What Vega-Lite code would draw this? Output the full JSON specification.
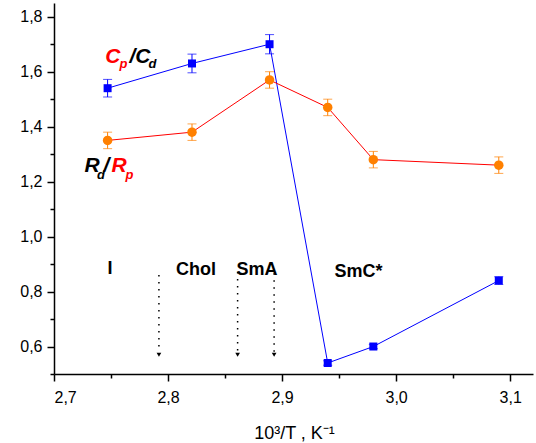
{
  "$schema": "https://vega.github.io/schema/vega-lite/v6.json",
  "width": 479,
  "height": 371,
  "autosize": {"type": "none"},
  "padding": {"left": 54, "top": 3, "right": 3, "bottom": 69},
  "config": {
    "view": {"stroke": null},
    "axis": {
      "grid": false,
      "domainColor": "#000000",
      "domainWidth": 1.5,
      "tickColor": "#000000",
      "tickWidth": 1.5,
      "tickSize": 7,
      "labelColor": "#000000",
      "labelFont": "Liberation Sans",
      "labelFontSize": 16,
      "labelOverlap": false,
      "titleFont": "Liberation Sans",
      "titleColor": "#000000",
      "titleFontWeight": "normal"
    }
  },
  "datasets": {
    "pts": [
      {"s": "C", "x": 2.747, "y": 1.54, "lo": 1.508, "hi": 1.572},
      {"s": "C", "x": 2.821, "y": 1.63, "lo": 1.596, "hi": 1.664},
      {"s": "C", "x": 2.889, "y": 1.70, "lo": 1.665, "hi": 1.735},
      {"s": "C", "x": 2.940, "y": 0.54, "lo": 0.532, "hi": 0.548},
      {"s": "C", "x": 2.980, "y": 0.60, "lo": 0.592, "hi": 0.608},
      {"s": "C", "x": 3.090, "y": 0.84, "lo": 0.826, "hi": 0.854},
      {"s": "R", "x": 2.747, "y": 1.35, "lo": 1.32, "hi": 1.38},
      {"s": "R", "x": 2.821, "y": 1.38, "lo": 1.35, "hi": 1.41},
      {"s": "R", "x": 2.889, "y": 1.57, "lo": 1.54, "hi": 1.60},
      {"s": "R", "x": 2.940, "y": 1.47, "lo": 1.44, "hi": 1.50},
      {"s": "R", "x": 2.980, "y": 1.28, "lo": 1.25, "hi": 1.31},
      {"s": "R", "x": 3.090, "y": 1.26, "lo": 1.23, "hi": 1.29}
    ],
    "arrows": [
      {"x": 2.792, "top": 0.860, "bot": 0.58, "tip": 0.57},
      {"x": 2.861, "top": 0.871, "bot": 0.58, "tip": 0.57},
      {"x": 2.893, "top": 0.867, "bot": 0.58, "tip": 0.57}
    ]
  },
  "layer": [
    {
      "data": {"name": "pts"},
      "transform": [{"filter": "datum.s == 'C'"}],
      "mark": {"type": "line", "color": "#0000ff", "strokeWidth": 1},
      "encoding": {
        "x": {
          "field": "x", "type": "quantitative",
          "scale": {"domain": [2.7, 3.12], "nice": false, "zero": false},
          "axis": {
            "values": [2.7, 2.75, 2.8, 2.85, 2.9, 2.95, 3.0, 3.05, 3.1],
            "tickCount": 30,
            "labelExpr": "round(datum.value*100)%10 == 5 ? '' : replace(format(datum.value, '.1f'), '.', ',')",
            "tickDash": {"condition": {"test": "round(datum.value*100)%10 == 5", "value": [4, 20]}, "value": [7, 0]},
            "labelPadding": 8,
            "title": "10³/T , K⁻¹",
            "titleFontSize": 18,
            "titleBaseline": "alphabetic",
            "titleAlign": "center",
            "titleX": 240,
            "titleY": 64
          }
        },
        "y": {
          "field": "y", "type": "quantitative",
          "scale": {"domain": [0.5, 1.85], "nice": false, "zero": false},
          "axis": {
            "values": [0.5, 0.6, 0.7, 0.8, 0.9, 1.0, 1.1, 1.2, 1.3, 1.4, 1.5, 1.6, 1.7, 1.8],
            "tickCount": 30,
            "labelExpr": "round(datum.value*10)%2 == 1 ? '' : replace(format(datum.value, '.1f'), '.', ',')",
            "tickDash": {"condition": {"test": "round(datum.value*10)%2 == 1", "value": [4, 20]}, "value": [7, 0]},
            "labelPadding": 5,
            "title": null
          }
        }
      }
    },
    {
      "data": {"name": "pts"},
      "transform": [{"filter": "datum.s == 'R'"}],
      "mark": {"type": "line", "color": "#ff0000", "strokeWidth": 1},
      "encoding": {
        "x": {"field": "x", "type": "quantitative", "scale": {"domain": [2.7, 3.12], "nice": false, "zero": false}},
        "y": {"field": "y", "type": "quantitative", "scale": {"domain": [0.5, 1.85], "nice": false, "zero": false}}
      }
    },
    {
      "data": {"name": "pts"},
      "transform": [{"filter": "datum.s == 'C'"}],
      "mark": {"type": "errorbar", "color": "#0000ff", "ticks": {"size": 9, "thickness": 1}, "rule": {"strokeWidth": 1}},
      "encoding": {
        "x": {"field": "x", "type": "quantitative", "scale": {"domain": [2.7, 3.12], "nice": false, "zero": false}},
        "y": {"field": "lo", "type": "quantitative", "scale": {"domain": [0.5, 1.85], "nice": false, "zero": false}},
        "y2": {"field": "hi"}
      }
    },
    {
      "data": {"name": "pts"},
      "transform": [{"filter": "datum.s == 'R'"}],
      "mark": {"type": "errorbar", "color": "#ff8000", "ticks": {"size": 9, "thickness": 1}, "rule": {"strokeWidth": 1}},
      "encoding": {
        "x": {"field": "x", "type": "quantitative", "scale": {"domain": [2.7, 3.12], "nice": false, "zero": false}},
        "y": {"field": "lo", "type": "quantitative", "scale": {"domain": [0.5, 1.85], "nice": false, "zero": false}},
        "y2": {"field": "hi"}
      }
    },
    {
      "data": {"name": "pts"},
      "transform": [{"filter": "datum.s == 'C'"}],
      "mark": {"type": "point", "shape": "square", "filled": true, "size": 64, "color": "#0000ff", "opacity": 1},
      "encoding": {
        "x": {"field": "x", "type": "quantitative", "scale": {"domain": [2.7, 3.12], "nice": false, "zero": false}},
        "y": {"field": "y", "type": "quantitative", "scale": {"domain": [0.5, 1.85], "nice": false, "zero": false}}
      }
    },
    {
      "data": {"name": "pts"},
      "transform": [{"filter": "datum.s == 'R'"}],
      "mark": {"type": "point", "shape": "circle", "filled": true, "size": 90, "color": "#ff8000", "opacity": 1},
      "encoding": {
        "x": {"field": "x", "type": "quantitative", "scale": {"domain": [2.7, 3.12], "nice": false, "zero": false}},
        "y": {"field": "y", "type": "quantitative", "scale": {"domain": [0.5, 1.85], "nice": false, "zero": false}}
      }
    },
    {
      "data": {"name": "arrows"},
      "mark": {"type": "rule", "color": "#000000", "strokeWidth": 1.5, "strokeDash": [1.5, 5.5]},
      "encoding": {
        "x": {"field": "x", "type": "quantitative", "scale": {"domain": [2.7, 3.12], "nice": false, "zero": false}},
        "y": {"field": "top", "type": "quantitative", "scale": {"domain": [0.5, 1.85], "nice": false, "zero": false}},
        "y2": {"field": "bot"}
      }
    },
    {
      "data": {"name": "arrows"},
      "mark": {"type": "point", "shape": "triangle-down", "filled": true, "size": 22, "color": "#000000", "opacity": 1},
      "encoding": {
        "x": {"field": "x", "type": "quantitative", "scale": {"domain": [2.7, 3.12], "nice": false, "zero": false}},
        "y": {"field": "tip", "type": "quantitative", "scale": {"domain": [0.5, 1.85], "nice": false, "zero": false}}
      }
    },
    {
      "data": {"values": [
        {"t": "I", "x": 2.749, "y": 0.864},
        {"t": "Chol", "x": 2.8246, "y": 0.86},
        {"t": "SmA", "x": 2.878, "y": 0.86},
        {"t": "SmC*", "x": 2.967, "y": 0.853}
      ]},
      "mark": {"type": "text", "font": "Liberation Sans", "fontWeight": "bold", "fontSize": 18, "color": "#000000", "align": "center", "baseline": "alphabetic"},
      "encoding": {
        "x": {"field": "x", "type": "quantitative", "scale": {"domain": [2.7, 3.12], "nice": false, "zero": false}},
        "y": {"field": "y", "type": "quantitative", "scale": {"domain": [0.5, 1.85], "nice": false, "zero": false}},
        "text": {"field": "t"}
      }
    },
    {
      "data": {"values": [
        {"t": "C", "x": 2.7450, "y": 1.632},
        {"t": "R", "x": 2.7505, "y": 1.2345}
      ]},
      "mark": {"type": "text", "font": "Liberation Sans", "fontWeight": "bold", "fontStyle": "italic", "fontSize": 21, "color": "#ff0000", "align": "left", "baseline": "alphabetic"},
      "encoding": {
        "x": {"field": "x", "type": "quantitative", "scale": {"domain": [2.7, 3.12], "nice": false, "zero": false}},
        "y": {"field": "y", "type": "quantitative", "scale": {"domain": [0.5, 1.85], "nice": false, "zero": false}},
        "text": {"field": "t"}
      }
    },
    {
      "data": {"values": [
        {"t": "/C", "x": 2.7662, "y": 1.632},
        {"t": "R", "x": 2.7267, "y": 1.2345},
        {"t": "/", "x": 2.7434, "y": 1.2345}
      ]},
      "mark": {"type": "text", "font": "Liberation Sans", "fontWeight": "bold", "fontStyle": "italic", "fontSize": 21, "color": "#000000", "align": "left", "baseline": "alphabetic"},
      "encoding": {
        "x": {"field": "x", "type": "quantitative", "scale": {"domain": [2.7, 3.12], "nice": false, "zero": false}},
        "y": {"field": "y", "type": "quantitative", "scale": {"domain": [0.5, 1.85], "nice": false, "zero": false}},
        "text": {"field": "t"}
      }
    },
    {
      "data": {"values": [
        {"t": "p", "x": 2.7574, "y": 1.6127},
        {"t": "p", "x": 2.7627, "y": 1.209}
      ]},
      "mark": {"type": "text", "font": "Liberation Sans", "fontWeight": "bold", "fontStyle": "italic", "fontSize": 13, "color": "#ff0000", "align": "left", "baseline": "alphabetic"},
      "encoding": {
        "x": {"field": "x", "type": "quantitative", "scale": {"domain": [2.7, 3.12], "nice": false, "zero": false}},
        "y": {"field": "y", "type": "quantitative", "scale": {"domain": [0.5, 1.85], "nice": false, "zero": false}},
        "text": {"field": "t"}
      }
    },
    {
      "data": {"values": [
        {"t": "d", "x": 2.7828, "y": 1.6127},
        {"t": "d", "x": 2.7378, "y": 1.209}
      ]},
      "mark": {"type": "text", "font": "Liberation Sans", "fontWeight": "bold", "fontStyle": "italic", "fontSize": 13, "color": "#000000", "align": "left", "baseline": "alphabetic"},
      "encoding": {
        "x": {"field": "x", "type": "quantitative", "scale": {"domain": [2.7, 3.12], "nice": false, "zero": false}},
        "y": {"field": "y", "type": "quantitative", "scale": {"domain": [0.5, 1.85], "nice": false, "zero": false}},
        "text": {"field": "t"}
      }
    }
  ]
}
